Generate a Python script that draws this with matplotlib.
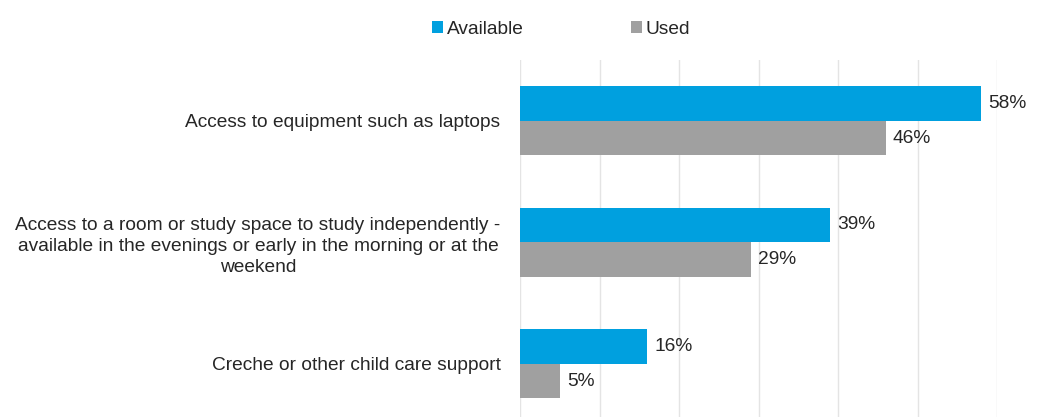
import matplotlib
matplotlib.use("Agg")
import matplotlib.pyplot as plt
import numpy as np

plt.rcParams['font.family'] = ['Liberation Sans', 'DejaVu Sans']

categories = [
    "Access to equipment such as laptops",
    "Access to a room or study space to study independently -\navailable in the evenings or early in the morning or at the\nweekend",
    "Creche or other child care support",
]
available = [58, 39, 16]
used = [46, 29, 5]

blue = '#00A0DF'
grey = '#A0A0A0'
fs = 13.8

fig = plt.figure(figsize=(10.62, 4.17), dpi=100)
ax = fig.add_axes([520 / 1062, 0, (997 - 520) / 1062, 1 - 60 / 417])

y = np.arange(len(categories))
h = 0.284
ax.barh(y - h / 2, available, height=h, color=blue, label='Available', zorder=3)
ax.barh(y + h / 2, used, height=h, color=grey, label='Used', zorder=3)

for i in range(len(categories)):
    ax.text(available[i] + 0.9, y[i] - h / 2, f"{available[i]}%", va='center', ha='left',
            fontsize=fs, color='#262626', clip_on=False)
    ax.text(used[i] + 0.9, y[i] + h / 2, f"{used[i]}%", va='center', ha='left',
            fontsize=fs, color='#262626', clip_on=False)

ax.set_xlim(0, 60)
ax.set_ylim(-0.5 + 357 / 121.5, -0.5)
ax.set_xticks(np.arange(0, 61, 10))
ax.xaxis.grid(True, color='#E4E4E4', linewidth=1)
ax.tick_params(axis='x', length=0, labelbottom=False)
ax.tick_params(axis='y', length=0, pad=14)
ax.set_yticks(y)
ax.set_yticklabels(categories, fontsize=fs, color='#262626', multialignment='center',
                   linespacing=1.3)
for s in ax.spines.values():
    s.set_visible(False)

fig.legend(loc='center', bbox_to_anchor=(561 / 1062, 1 - 29 / 417), ncol=2, frameon=False,
           fontsize=fs, handlelength=0.58, handleheight=0.58, handletextpad=0.2,
           columnspacing=5.6, labelcolor='#262626')

fig.savefig('out.png', dpi=100)
